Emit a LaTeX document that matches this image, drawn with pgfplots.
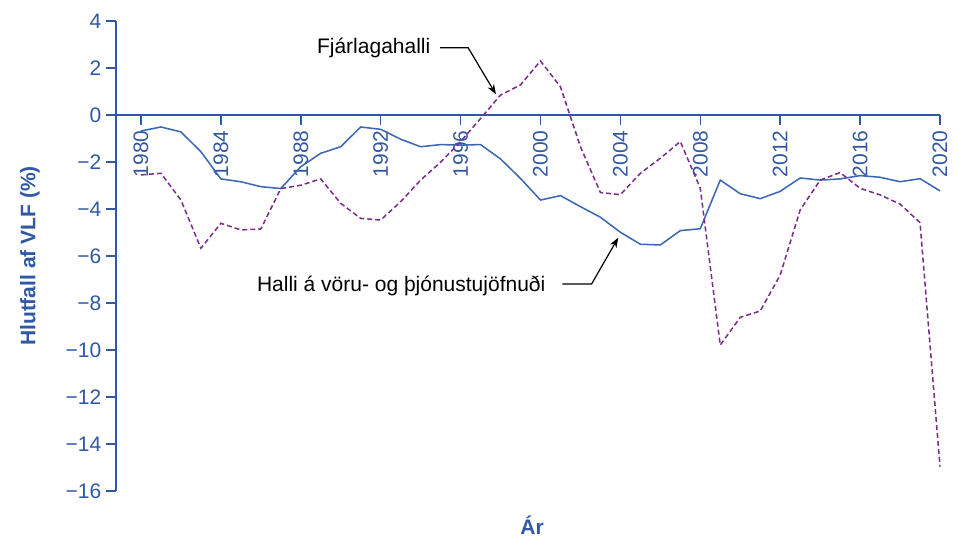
\documentclass[border=0pt]{standalone}
\usepackage{pgfplots}
\pgfplotsset{compat=1.18}
\usetikzlibrary{arrows.meta}
\usepackage{fontspec}
\setmainfont{Liberation Sans}

\definecolor{axblue}{RGB}{48,88,165}
\definecolor{lnblue}{RGB}{58,104,180}
\definecolor{lnpurple}{RGB}{125,45,140}

\newcommand{\chartfont}{\fontsize{15.75}{18}\selectfont}

% Halli a voru- og thjonustujofnudi (solid) and Fjarlagahalli (dashed), % of GDP
\pgfplotstableread{
year trade budget
1980 -0.68 -2.55
1981 -0.51 -2.48
1982 -0.72 -3.62
1983 -1.56 -5.67
1984 -2.72 -4.61
1985 -2.84 -4.89
1986 -3.05 -4.85
1987 -3.13 -3.13
1988 -2.20 -2.99
1989 -1.63 -2.72
1990 -1.35 -3.76
1991 -0.51 -4.40
1992 -0.61 -4.47
1993 -1.03 -3.69
1994 -1.35 -2.77
1995 -1.26 -2.01
1996 -1.28 -1.13
1997 -1.26 -0.15
1998 -1.87 0.85
1999 -2.70 1.28
2000 -3.62 2.30
2001 -3.43 1.20
2002 -3.90 -1.35
2003 -4.35 -3.30
2004 -4.99 -3.39
2005 -5.50 -2.48
2006 -5.53 -1.84
2007 -4.92 -1.13
2008 -4.84 -3.12
2009 -2.77 -9.79
2010 -3.35 -8.61
2011 -3.56 -8.34
2012 -3.25 -6.81
2013 -2.68 -4.04
2014 -2.77 -2.77
2015 -2.72 -2.45
2016 -2.58 -3.12
2017 -2.65 -3.40
2018 -2.84 -3.79
2019 -2.71 -4.58
2020 -3.23 -14.96
}\deficit

\begin{document}
\begin{tikzpicture}
\path[use as bounding box] (0,0) rectangle (732pt,412.5pt);
\begin{axis}[
    at={(87pt,44.25pt)}, anchor=south west,
    scale only axis, width=618pt, height=352.5pt,
    xmin=1978.75, xmax=2020, ymin=-16, ymax=4,
    axis y line*=left, axis x line*=middle,
    axis line style={axblue, line width=1.1pt},
    every tick/.style={axblue, line width=1.1pt},
    major tick length=7.5pt,
    tick align=outside,
    xtick={1980,1984,...,2020},
    xticklabels={1980,1984,1988,1992,1996,2000,2004,2008,2012,2016,2020},
    ytick={-16,-14,...,4},
    yticklabels={−16,−14,−12,−10,−8,−6,−4,−2,0,2,4},
    tick label style={font=\chartfont, text=axblue},
    x tick label style={rotate=90, anchor=east, inner sep=4pt},
    ylabel={Hlutfall af VLF (\%)},
    xlabel={Ár},
    label style={font=\chartfont\bfseries, text=axblue},
    ylabel style={at={(axis description cs:-0.1044,0.5)}, anchor=center},
    xlabel style={at={(axis description cs:0.505,-0.0936)}, anchor=base},
    clip=false,
]
\addplot[lnblue, line width=1.15pt] table[x=year, y=trade] {\deficit};
\addplot[lnpurple, line width=1.15pt, dash pattern=on 3.75pt off 2.25pt] table[x=year, y=budget] {\deficit};

\node[anchor=base east, font=\chartfont] at (axis cs:1994.72,2.63) {Fjárlagahalli};
\draw[line width=0.9pt, -{Stealth[length=7.5pt,width=5.5pt]}]
    (axis cs:1994.97,2.86) -- (axis cs:1996.38,2.86) -- (axis cs:1997.77,0.88);
\node[anchor=base east, font=\chartfont] at (axis cs:2000.48,-7.52) {Halli á vöru- og þjónustujöfnuði};
\draw[line width=0.9pt, -{Stealth[length=7.5pt,width=5.5pt]}]
    (axis cs:2001.09,-7.19) -- (axis cs:2002.56,-7.19) -- (axis cs:2003.89,-5.22);
\end{axis}
\end{tikzpicture}
\end{document}
